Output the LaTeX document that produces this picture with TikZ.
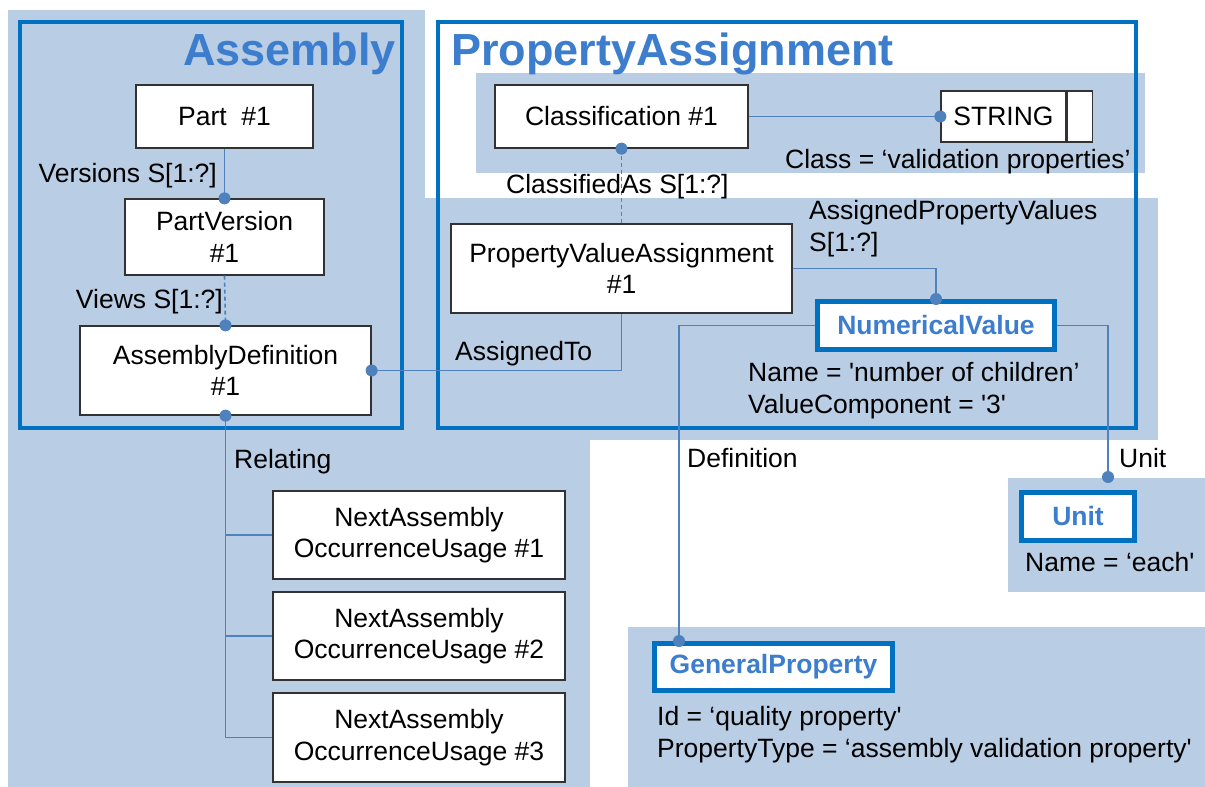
\documentclass[tikz,border=0pt]{standalone}
\usepackage{fontspec}
\setmainfont{Liberation Sans}
\usetikzlibrary{calc}
\definecolor{bgblue}{RGB}{185,205,228}
\definecolor{framecol}{RGB}{0,112,192}
\definecolor{titlecol}{RGB}{60,125,205}
\definecolor{conncol}{RGB}{79,129,189}
\definecolor{boxline}{RGB}{50,50,50}
\tikzset{
  bg/.style={fill=bgblue, draw=none},
  frame/.style={draw=framecol, line width=4pt},
  txt/.style={font=\fontsize{26.5}{31.5}\selectfont, inner sep=0pt, text=black},
  box/.style={draw=boxline, fill=white, line width=1.3pt, font=\fontsize{26.5}{31.5}\selectfont, align=center, inner sep=0pt},
  ebox/.style={draw=framecol, fill=white, line width=5pt, font=\fontsize{26.5}{31.5}\selectfont\bfseries, text=titlecol, inner sep=0pt},
  title/.style={font=\fontsize{45}{54}\selectfont\bfseries, text=titlecol, inner sep=0pt},
  conn/.style={draw=conncol, line width=1.6pt},
  dashconn/.style={draw=conncol, line width=1.6pt, dash pattern=on 4pt off 3pt},
  dot/.style={fill=conncol}
}
\begin{document}
\begin{tikzpicture}[x=1pt,y=-1pt]
\useasboundingbox (0,0) rectangle (1205,787);
\fill[white] (0,0) rectangle (1205,787);
% background regions
\fill[bg] (8,10) rectangle (425,199);
\fill[bg] (8,198) rectangle (1158,440);
\fill[bg] (8,439) rectangle (590,787);
\fill[bg] (476,73) rectangle (1145,173);
\fill[bg] (1008,478) rectangle (1205,592);
\fill[bg] (628,627) rectangle (1205,787);
% frames
\draw[frame] (20,22) rectangle (402,428);
\draw[frame] (438,22) rectangle (1136,428);
\node[title, anchor=base east] (tasm) at (396,65) {Assembly};
\node[title, anchor=base west] (tpa) at (451,65) {PropertyAssignment};
% nodes
\node[box, minimum width=177, minimum height=63] (part) at (224.5,116.5) {Part\ \ \#1};
\node[box, minimum width=199, minimum height=76] (pv) at (224.5,237) {PartVersion\\\#1};
\node[box, minimum width=291, minimum height=89] (ad) at (225.5,370.5) {AssemblyDefinition\\\#1};
\node[box, minimum width=292, minimum height=88] (n1) at (419,535) {NextAssembly\\OccurrenceUsage \#1};
\node[box, minimum width=292, minimum height=88] (n2) at (419,636) {NextAssembly\\OccurrenceUsage \#2};
\node[box, minimum width=292, minimum height=89] (n3) at (419,737.5) {NextAssembly\\OccurrenceUsage \#3};
\node[box, minimum width=253, minimum height=63] (cls) at (621.5,116.5) {Classification \#1};
\node[box, minimum width=125, minimum height=51] (str) at (1003.5,116.5) {STRING};
\node[box, minimum width=25, minimum height=51, anchor=west] (strx) at (str.east) {};
\node[box, minimum width=341, minimum height=89] (pva) at (621.5,268.5) {PropertyValueAssignment\\\#1};
\node[ebox, minimum width=237, minimum height=48] (nv) at (936,325.5) {NumericalValue};
\node[ebox, minimum width=113, minimum height=48] (unit) at (1078,516.5) {Unit};
\node[ebox, minimum width=238, minimum height=47] (gp) at (773.5,667) {GeneralProperty};
\coordinate (unitpin) at (1108,477);
\coordinate (gppin) at ($(gp.north west)+(27,0)$);
% connectors
\draw[conn] (part.south) -- (pv.north);
\draw[dashconn] (pv.south) -- (ad.north);
\draw[conn] (ad.east) -| (pva.south);
\draw[conn] (ad.south) |- (n3.west);
\draw[conn] (ad.south |- n1.west) -- (n1.west);
\draw[conn] (ad.south |- n2.west) -- (n2.west);
\draw[conn] (cls.east) -- (str.west);
\draw[dashconn] (cls.south) -- (pva.north);
\draw[conn] (pva.east) -| (nv.north);
\draw[conn] (nv.west) -| (gppin);
\draw[conn] (nv.east) -| (unitpin);
% dots
\foreach \p in {pv.north, ad.north, ad.east, ad.south, str.west, cls.south, nv.north, gppin, unitpin}
  \fill[dot] (\p) circle[radius=6pt];
% labels
\node[txt, anchor=base east] (lver) at (217,182) {Versions S[1:?]};
\node[txt, anchor=base east] (lviews) at (223,308) {Views S[1:?]};
\node[txt, anchor=base west] (lrel) at (234,468) {Relating};
\node[txt, anchor=base west] (lcas) at (506,193) {ClassifiedAs S[1:?]};
\node[txt, anchor=base west, align=left] (lapv) at (809,251) {AssignedPropertyValues\\S[1:?]};
\node[txt, anchor=base west] (lat) at (455,360) {AssignedTo};
\node[txt, anchor=base west] (lclass) at (785,168) {Class = ‘validation properties’};
\node[txt, anchor=base west, align=left] (lnv) at (748,413) {Name = \textquotesingle number of children’\\ValueComponent = \textquotesingle 3\textquotesingle};
\node[txt, anchor=base west] (ldef) at (687,467) {Definition};
\node[txt, anchor=base west] (lunit) at (1119,467) {Unit};
\node[txt, anchor=base west] (lunitn) at (1025,571) {Name = ‘each\textquotesingle};
\node[txt, anchor=base west, align=left] (lgp) at (657,757) {Id = ‘quality property\textquotesingle\\PropertyType = ‘assembly validation property\textquotesingle};
\end{tikzpicture}
\end{document}
